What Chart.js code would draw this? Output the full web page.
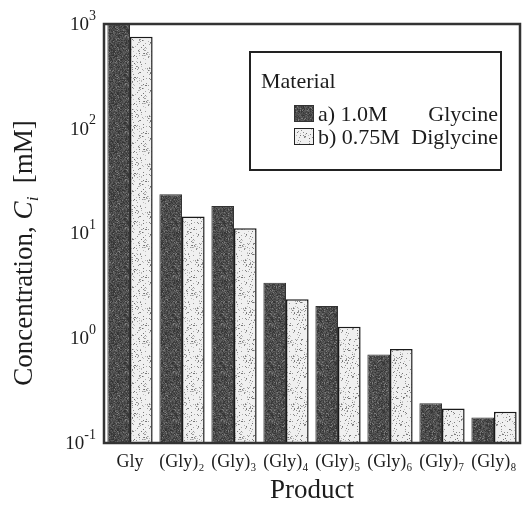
<!DOCTYPE html>
<html>
<head>
<meta charset="utf-8">
<script src="https://cdn.jsdelivr.net/npm/chart.js@4/dist/chart.umd.min.js"></script>
<style>
  html, body { margin: 0; padding: 0; background: #fff; }
  #wrap { width: 522px; height: 505px; position: relative; }
</style>
</head>
<body>
<div id="wrap"><canvas id="chart"></canvas></div>
<script>
// products on the x axis
const products = ['Gly', '(Gly)₂', '(Gly)₃', '(Gly)₄', '(Gly)₅', '(Gly)₆', '(Gly)₇', '(Gly)₈'];

// concentrations in mM
const glycine = [1000, 23.7, 18.3, 3.39, 2.03, 0.70, 0.24, 0.175];
const diglycine = [757, 14.5, 11.2, 2.36, 1.29, 0.79, 0.213, 0.199];

// legend text: prefix + material name
const seriesPrefix = ['a) 1.0M', 'b) 0.75M'];
const seriesNames = ['Glycine', 'Diglycine'];

// y axis decades
const yTicks = [0.1, 1, 10, 100, 1000];

const serif = "'Liberation Serif', 'Times New Roman', serif";
const ink = '#1c1c1c';

// pseudo grain for the printed stipple look (texture only, not data)
function grain(x, y) {
  const s = Math.sin(x * 12.9898 + y * 78.233) * 43758.5453;
  return s - Math.floor(s);
}

function stipple(kind) {
  const n = 48;
  const c = document.createElement('canvas');
  c.width = n; c.height = n;
  const g = c.getContext('2d');
  const img = g.createImageData(n, n);
  for (let y = 0; y < n; y++) {
    for (let x = 0; x < n; x++) {
      const r = grain(x, y);
      let v;
      if (kind === 'dark') {
        v = r < 0.06 ? 125 : 50 + Math.floor(grain(y + 3, x + 7) * 50);
      } else {
        v = r < 0.14 ? 110 + Math.floor(grain(y + 5, x + 1) * 90) : 240;
      }
      const k = (y * n + x) * 4;
      img.data[k] = img.data[k + 1] = img.data[k + 2] = v;
      img.data[k + 3] = 255;
    }
  }
  g.putImageData(img, 0, 0);
  return g.createPattern(c, 'repeat');
}

const darkFill = stipple('dark');
const lightFill = stipple('light');

// frame, y tick labels, y title and legend box are drawn by hand
const decor = {
  id: 'decor',
  afterDatasetsDraw(chart) {
    const { ctx, chartArea: a } = chart;
    ctx.save();
    ctx.strokeStyle = '#333';
    ctx.lineWidth = 2.5;
    ctx.strokeRect(a.left, a.top, a.right - a.left, a.bottom - a.top);
    ctx.restore();
  },
  afterDraw(chart) {
    const { ctx } = chart;
    const ys = chart.scales.y;
    ctx.save();
    ctx.fillStyle = ink;

    // decade labels 10^n with raised exponent
    yTicks.forEach(v => {
      const py = ys.getPixelForValue(v);
      const e = String(Math.round(Math.log10(v)));
      ctx.font = `14px ${serif}`;
      const ew = ctx.measureText(e).width;
      ctx.textAlign = 'right';
      ctx.textBaseline = 'middle';
      ctx.fillText(e, 96, py - 8);
      ctx.font = `19px ${serif}`;
      ctx.fillText('10', 96 - ew, py + 1);
    });

    // y axis title with italic C and subscript i
    const parts = [
      { t: 'Concentration, ', f: `27px ${serif}`, dy: 0 },
      { t: 'C', f: `italic 27px ${serif}`, dy: 0 },
      { t: 'i', f: `italic 17px ${serif}`, dy: 6 },
      { t: '  [mM]', f: `27px ${serif}`, dy: 0 }
    ];
    let total = 0;
    parts.forEach(p => { ctx.font = p.f; p.w = ctx.measureText(p.t).width; total += p.w; });
    ctx.translate(32, 253);
    ctx.rotate(-Math.PI / 2);
    ctx.textAlign = 'left';
    ctx.textBaseline = 'alphabetic';
    let x = -total / 2;
    parts.forEach(p => { ctx.font = p.f; ctx.fillText(p.t, x, p.dy); x += p.w; });
    ctx.setTransform(1, 0, 0, 1, 0, 0);

    // legend
    const bx = 250, by = 52, bw = 251, bh = 118;
    ctx.fillStyle = '#fff';
    ctx.fillRect(bx, by, bw, bh);
    ctx.strokeStyle = '#222';
    ctx.lineWidth = 2;
    ctx.strokeRect(bx, by, bw, bh);
    ctx.fillStyle = ink;
    ctx.font = `22px ${serif}`;
    ctx.textAlign = 'left';
    ctx.fillText('Material', 261, 88);
    const fills = [darkFill, lightFill];
    chart.data.datasets.forEach((ds, i) => {
      const sy = 105 + i * 23;
      ctx.fillStyle = fills[i];
      ctx.fillRect(294, sy, 20, 17);
      ctx.strokeStyle = i === 0 ? '#333' : '#222';
      ctx.lineWidth = 1;
      ctx.strokeRect(294.5, sy + 0.5, 19, 16);
      ctx.fillStyle = ink;
      ctx.font = `22px ${serif}`;
      ctx.textAlign = 'left';
      ctx.fillText(seriesPrefix[i], 318, sy + 16);
      ctx.textAlign = 'right';
      ctx.fillText(seriesNames[i], 498, sy + 16);
    });
    ctx.restore();
  }
};

new Chart(document.getElementById('chart'), {
  type: 'bar',
  data: {
    labels: products,
    datasets: [{
      label: seriesPrefix[0] + ' ' + seriesNames[0],
      data: glycine,
      backgroundColor: darkFill,
      borderColor: '#333',
      borderWidth: 1,
      categoryPercentage: 0.87,
      barPercentage: 1.0
    }, {
      label: seriesPrefix[1] + ' ' + seriesNames[1],
      data: diglycine,
      backgroundColor: lightFill,
      borderColor: '#1a1a1a',
      borderWidth: 1.5,
      categoryPercentage: 0.87,
      barPercentage: 1.0
    }]
  },
  options: {
    responsive: true,
    maintainAspectRatio: false,
    animation: false,
    layout: { padding: { top: 24, right: 2, left: 0, bottom: 0 } },
    plugins: {
      legend: { display: false },
      tooltip: { enabled: false }
    },
    scales: {
      x: {
        grid: { display: false },
        border: { display: false },
        ticks: {
          color: ink,
          font: { family: serif, size: 18 },
          padding: 0,
          maxRotation: 0,
          autoSkip: false
        },
        title: {
          display: true,
          text: 'Product',
          color: ink,
          font: { family: serif, size: 27 },
          padding: { top: 0, bottom: -2 }
        },
        afterFit(scale) { scale.height = 62; }
      },
      y: {
        type: 'logarithmic',
        min: 0.1,
        max: 1000,
        grid: { display: false },
        border: { display: false },
        afterBuildTicks(scale) {
          scale.ticks = yTicks.map(v => ({ value: v, major: true }));
        },
        ticks: { display: false },
        afterFit(scale) { scale.width = 104; }
      }
    }
  },
  plugins: [decor]
});
</script>
</body>
</html>
